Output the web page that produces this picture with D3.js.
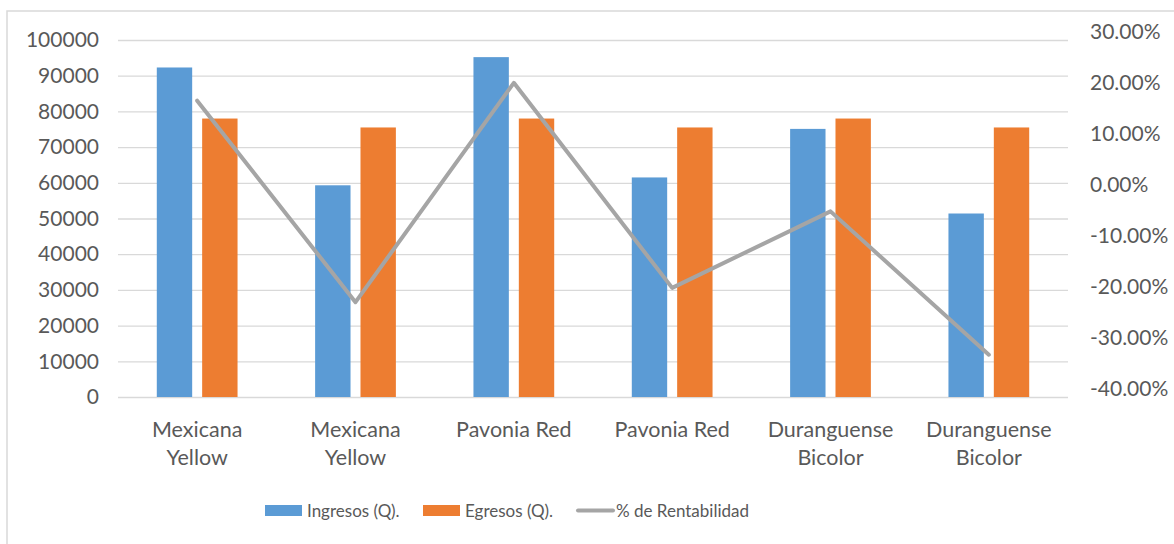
<!DOCTYPE html>
<html>
<head>
<meta charset="utf-8">
<script src="https://cdn.jsdelivr.net/npm/d3@7/dist/d3.min.js"></script>
<style>
  html, body { margin: 0; padding: 0; background: #fff; }
  svg { display: block; }
  text { font-family: Lato, "Liberation Sans", sans-serif; fill: #595959; }
</style>
</head>
<body>
<svg id="chart" width="1174" height="544"></svg>
<script>
// Crop varieties (two production cycles each) and their results
const categories = [
  ["Mexicana", "Yellow"],
  ["Mexicana", "Yellow"],
  ["Pavonia Red"],
  ["Pavonia Red"],
  ["Duranguense", "Bicolor"],
  ["Duranguense", "Bicolor"]
];
const ingresos = [92300, 59300, 95200, 61500, 75100, 51400];
const egresos = [78000, 75500, 78000, 75500, 78000, 75500];
const rentabilidad = [0.181, -0.214, 0.216, -0.186, -0.036, -0.317];

const leftTicks = [0, 10000, 20000, 30000, 40000, 50000, 60000, 70000, 80000, 90000, 100000];
const rightTicks = [-0.4, -0.3, -0.2, -0.1, 0, 0.1, 0.2, 0.3];
const seriesNames = ["Ingresos (Q).", "Egresos (Q).", "% de Rentabilidad"];
const colors = { ingresos: "#5B9BD5", egresos: "#ED7D31", line: "#A5A5A5" };

const svg = d3.select("#chart");
const plot = { left: 118, right: 1068, top: 40, bottom: 397 };

// outer chart frame
svg.append("rect")
  .attr("x", 7).attr("y", 11).attr("width", 1300).attr("height", 700)
  .attr("fill", "none").attr("stroke", "#D9D9D9").attr("stroke-width", 1.5);

const x0 = d3.scaleBand()
  .domain(d3.range(categories.length))
  .range([plot.left, plot.right])
  .paddingInner(0.49).paddingOuter(0.245);
const x1 = d3.scaleBand()
  .domain(["ingresos", "egresos"])
  .range([0, x0.bandwidth()])
  .paddingInner(0.22);
const yL = d3.scaleLinear().domain([0, 100000]).range([plot.bottom, plot.top]);
const yR = d3.scaleLinear().domain([-0.4, 0.3]).range([plot.bottom, plot.top]);

// percent labels with a plain hyphen for negatives
const pctFormat = v => (v < 0 ? "-" : "") + (Math.abs(v) * 100).toFixed(2) + "%";

// gridlines + left axis
const leftAxis = d3.axisLeft(yL).tickValues(leftTicks)
  .tickSize(-(plot.right - plot.left)).tickPadding(19).tickFormat(d3.format("d"));
const gL = svg.append("g").attr("transform", `translate(${plot.left},0)`).call(leftAxis);
gL.select(".domain").remove();
gL.selectAll(".tick line").attr("stroke", "#D9D9D9").attr("stroke-width", 1.3);
gL.selectAll(".tick text").attr("font-size", 21).attr("fill", "#595959")
  .attr("font-family", "Lato, 'Liberation Sans', sans-serif");

// right axis (percent), labels sit slightly above their gridlines
const rightAxis = d3.axisRight(yR).tickValues(rightTicks)
  .tickSize(0).tickPadding(22).tickFormat(pctFormat);
const gR = svg.append("g").attr("transform", `translate(${plot.right},0)`).call(rightAxis);
gR.select(".domain").remove();
gR.selectAll(".tick text").attr("font-size", 21).attr("fill", "#595959")
  .attr("font-family", "Lato, 'Liberation Sans', sans-serif");
gR.selectAll(".tick").attr("transform", d => `translate(0,${yR(d) - 7.5})`);

// bars
const groups = svg.append("g").selectAll("g")
  .data(categories.map((c, i) => ({ i, ingresos: ingresos[i], egresos: egresos[i] })))
  .join("g")
  .attr("transform", d => `translate(${x0(d.i)},0)`);
groups.selectAll("rect")
  .data(d => ["ingresos", "egresos"].map(k => ({ k, v: d[k] })))
  .join("rect")
  .attr("x", d => x1(d.k))
  .attr("width", x1.bandwidth())
  .attr("y", d => yL(d.v))
  .attr("height", d => yL(0) - yL(d.v))
  .attr("fill", d => colors[d.k]);

// profitability line on the secondary axis
const line = d3.line()
  .x((d, i) => x0(i) + x0.bandwidth() / 2)
  .y(d => yR(d));
svg.append("path")
  .datum(rentabilidad)
  .attr("d", line)
  .attr("fill", "none")
  .attr("stroke", colors.line)
  .attr("stroke-width", 4)
  .attr("stroke-linejoin", "round")
  .attr("stroke-linecap", "round");

// category labels
const catG = svg.append("g");
categories.forEach((lines, i) => {
  const cx = x0(i) + x0.bandwidth() / 2;
  const t = catG.append("text")
    .attr("x", cx)
    .attr("y", 436.5)
    .attr("text-anchor", "middle")
    .attr("font-size", 21.5);
  lines.forEach((l, j) => {
    t.append("tspan").attr("x", cx)
      .attr("dy", j === 0 ? 0 : 28.5).text(l);
  });
});

// legend
const legend = svg.append("g").attr("font-size", 17);
const legendItems = [
  { name: seriesNames[0], x: 265, type: "rect", color: colors.ingresos },
  { name: seriesNames[1], x: 423, type: "rect", color: colors.egresos },
  { name: seriesNames[2], x: 576, type: "line", color: colors.line }
];
legendItems.forEach(it => {
  if (it.type === "rect") {
    legend.append("rect").attr("x", it.x).attr("y", 505)
      .attr("width", 37).attr("height", 11).attr("fill", it.color);
    legend.append("text").attr("x", it.x + 42).attr("y", 516.5).text(it.name);
  } else {
    legend.append("line").attr("x1", it.x + 2).attr("x2", it.x + 37)
      .attr("y1", 510.5).attr("y2", 510.5)
      .attr("stroke", it.color).attr("stroke-width", 4).attr("stroke-linecap", "round");
    legend.append("text").attr("x", it.x + 40).attr("y", 516.5).text(it.name);
  }
});
</script>
</body>
</html>
